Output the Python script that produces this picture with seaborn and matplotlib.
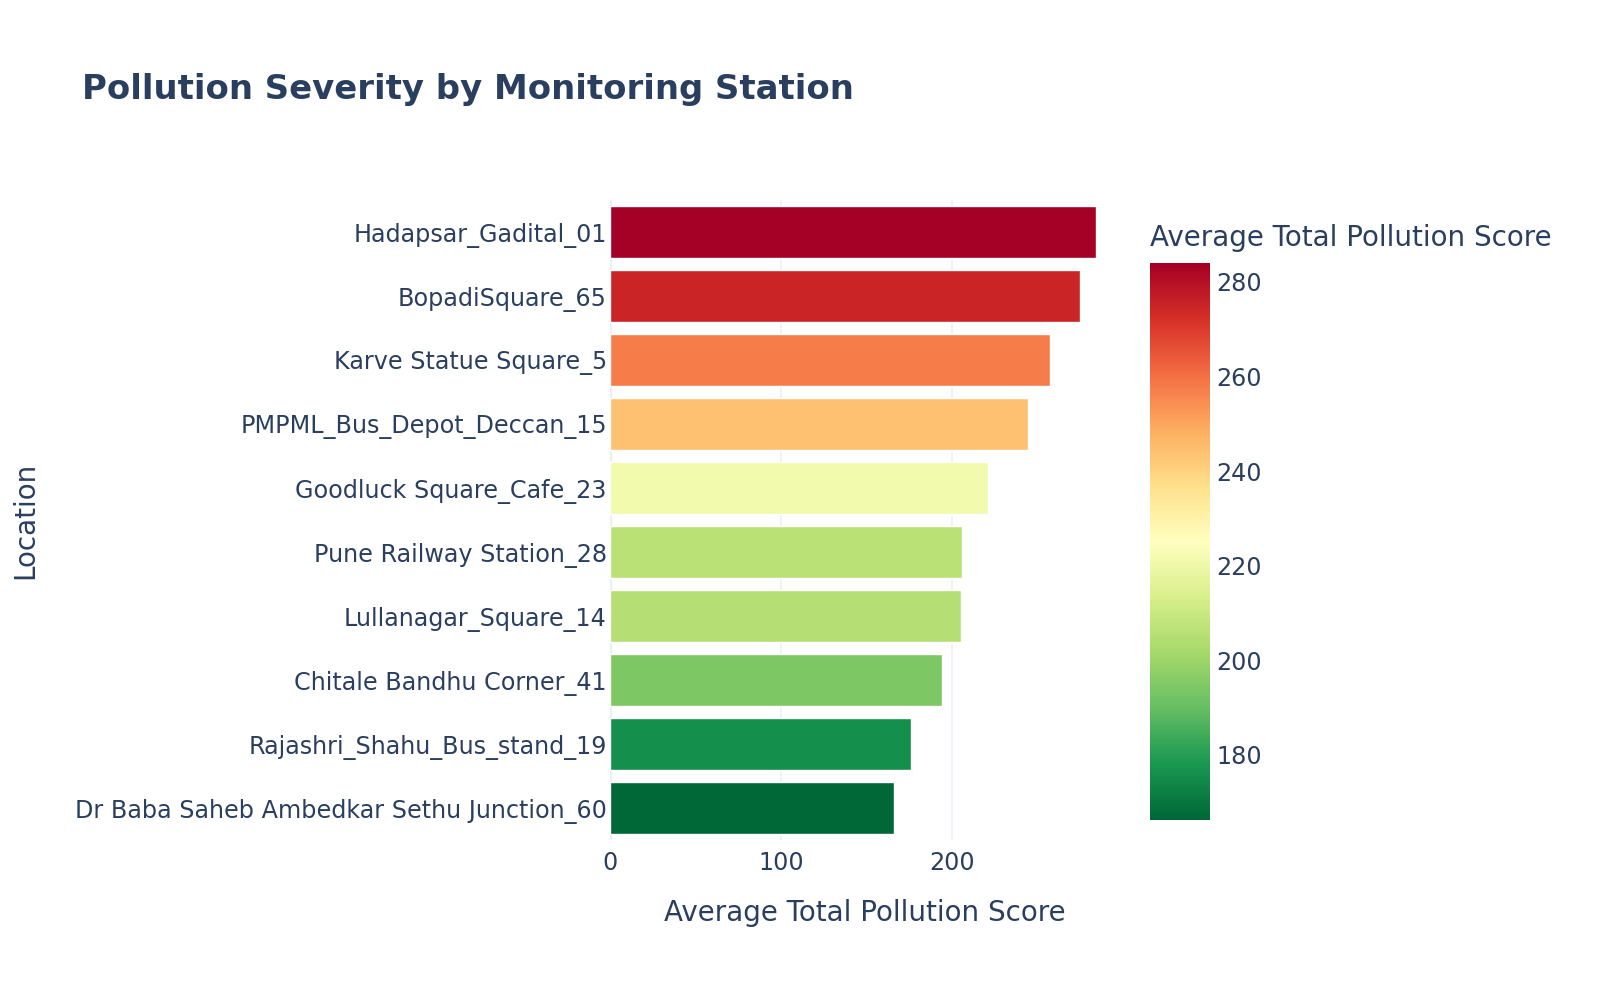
import matplotlib
matplotlib.use("Agg")
import matplotlib.pyplot as plt
import seaborn as sns
import pandas as pd
from matplotlib.colors import Normalize
from matplotlib.cm import ScalarMappable

# values (highest first, top of chart)
locations = [
    "Hadapsar_Gadital_01",
    "BopadiSquare_65",
    "Karve Statue Square_5",
    "PMPML_Bus_Depot_Deccan_15",
    "Goodluck Square_Cafe_23",
    "Pune Railway Station_28",
    "Lullanagar_Square_14",
    "Chitale Bandhu Corner_41",
    "Rajashri_Shahu_Bus_stand_19",
    "Dr Baba Saheb Ambedkar Sethu Junction_60",
]
scores = [284.0, 274.9, 257.5, 244.2, 221.2, 206.0, 205.3, 194.1, 176.1, 166.2]

df = pd.DataFrame({"Location": locations, "Average Total Pollution Score": scores})

text_color = "#2a3f5f"
grid_color = "#EBF0F8"

sns.set_theme(style="white")
plt.rcParams["font.family"] = ["DejaVu Sans"]

cmap = plt.get_cmap("RdYlGn_r")
norm = Normalize(vmin=min(scores), vmax=max(scores))
palette = {loc: cmap(norm(v)) for loc, v in zip(locations, scores)}

fig = plt.figure(figsize=(16, 10), dpi=100)
ax = fig.add_axes([0.381, 0.16, 0.319, 0.64])

sns.barplot(data=df, x="Average Total Pollution Score", y="Location",
            hue="Location", palette=palette, order=locations,
            orient="h", width=0.8, legend=False, ax=ax, saturation=1)

ax.set_xlim(0, max(scores) * 1.05)
ax.set_xticks([0, 100, 200])
ax.grid(axis="x", color=grid_color, linewidth=1.2)
ax.axvline(0, color=grid_color, linewidth=2.5, zorder=0)
ax.set_axisbelow(True)
for s in ax.spines.values():
    s.set_visible(False)
ax.tick_params(axis="both", length=0, labelsize=17.2, labelcolor=text_color)
ax.tick_params(axis="y", pad=2)
ax.tick_params(axis="x", pad=8)

ax.set_xlabel("Average Total Pollution Score", fontsize=20, color=text_color, labelpad=17)
ax.set_ylabel("")
fig.text(0.007, 0.48, "Location", rotation=90, fontsize=20, color=text_color,
         ha="left", va="center")

fig.text(0.051, 0.911, "Pollution Severity by Monitoring Station", fontsize=24.4,
         fontweight="bold", color=text_color, ha="left", va="center")

cax = fig.add_axes([0.719, 0.18, 0.037, 0.557])
sm = ScalarMappable(norm=norm, cmap=cmap)
cb = fig.colorbar(sm, cax=cax)
cb.outline.set_visible(False)
cb.set_ticks([180, 200, 220, 240, 260, 280])
cax.tick_params(length=0, labelsize=17.2, labelcolor=text_color, pad=5)
fig.text(0.7185, 0.762, "Average Total Pollution Score", fontsize=20,
         color=text_color, ha="left", va="center")

fig.savefig("out.png", dpi=100, facecolor="white")
